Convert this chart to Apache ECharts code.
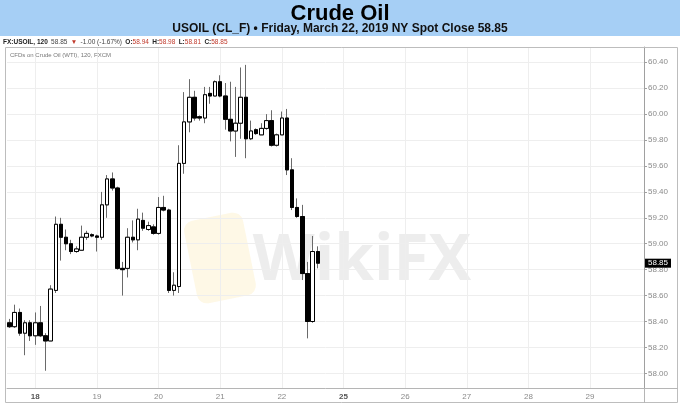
<!DOCTYPE html>
<html>
<head>
<meta charset="utf-8">
<script src="https://cdn.jsdelivr.net/npm/echarts@6/dist/echarts.min.js"></script>
<style>html,body{margin:0;padding:0;background:#fff}#c{width:680px;height:405px}</style>
</head>
<body>
<div id="c"></div>
<script>
// ---- data (2-hour bars, USOIL) ----
const dayLabels = ['18','19','20','21','22','25','26','27','28','29'];
const boldDays = ['18','25'];
const barsPerDay = 12;
const firstDaySlot = 5;
const totalSlots = 124;

const opens = [58.39,58.36,58.47,58.31,58.39,58.29,58.39,58.29,58.25,58.64,
  59.15,59.05,59.00,58.94,58.95,59.05,59.07,59.06,59.05,59.30,
  59.50,59.43,58.81,58.81,59.05,59.03,59.18,59.11,59.13,59.08,
  59.28,59.26,58.64,58.67,59.62,59.94,60.13,59.98,59.97,60.16,
  60.14,60.25,60.14,59.96,59.87,59.93,60.13,59.81,59.88,59.84,
  59.89,59.95,59.76,59.84,59.97,59.57,59.28,59.21,58.77,58.40,
  58.94];
const closes = [58.36,58.47,58.31,58.39,58.29,58.39,58.29,58.25,58.65,59.15,
  59.05,59.00,58.94,58.96,59.05,59.08,59.06,59.05,59.30,59.50,
  59.43,58.81,58.80,59.05,59.03,59.19,59.12,59.14,59.08,59.28,
  59.26,58.64,58.68,59.62,59.94,60.13,59.97,59.97,60.15,60.14,
  60.25,60.14,59.96,59.87,59.93,60.13,59.81,59.87,59.85,59.89,
  59.95,59.76,59.84,59.97,59.57,59.28,59.21,58.77,58.40,58.94,
  58.85];
const lows = [58.35,58.35,58.29,58.14,58.25,58.22,58.28,58.02,58.25,58.62,
  58.87,58.95,58.92,58.93,58.95,59.03,59.05,58.94,59.03,59.20,
  59.41,58.80,58.60,58.74,59.01,58.95,59.10,59.10,59.07,59.07,
  59.25,58.62,58.60,58.62,59.54,59.86,59.95,59.95,59.93,60.08,
  60.14,60.13,59.88,59.79,59.67,59.81,59.66,59.80,59.84,59.84,
  59.88,59.75,59.75,59.84,59.53,59.26,59.20,58.72,58.27,58.39,
  58.81];
const highs = [58.42,58.53,58.50,58.41,58.41,58.47,58.52,58.31,58.68,59.21,
  59.20,59.11,59.03,58.98,59.14,59.10,59.08,59.07,59.40,59.53,
  59.55,59.44,58.86,59.12,59.18,59.27,59.24,59.17,59.15,59.36,
  59.37,59.27,58.78,59.76,60.17,60.27,60.18,59.99,60.21,60.21,
  60.26,60.30,60.24,60.25,60.21,60.36,60.38,59.95,59.89,59.93,
  60.00,60.03,59.85,60.02,60.04,59.66,59.35,59.30,58.86,59.06,
  58.98];

// ---- build category slots ----
const cats = [];
for (let i = 0; i < totalSlots; i++) {
  const k = (i - firstDaySlot) / barsPerDay;
  if (Number.isInteger(k) && k >= 0 && k < dayLabels.length) cats.push(dayLabels[k]);
  else cats.push('s' + i);
}
const isDay = (idx, val) => dayLabels.indexOf(val) >= 0;

const full = opens.map((o, i) => [o, closes[i], lows[i], highs[i]]);
const bodies = opens.map((o, i) => [o, closes[i], Math.min(o, closes[i]), Math.max(o, closes[i])]);
const lastClose = closes[closes.length - 1];

const chart = echarts.init(document.getElementById('c'), null, {renderer: 'canvas'});
const F = '"Liberation Sans", Arial, sans-serif';

chart.setOption({
  animation: false,
  backgroundColor: '#fff',
  grid: {left: 7, right: 36, top: 47, bottom: 17, show: false},
  xAxis: {
    type: 'category', data: cats, boundaryGap: true,
    axisLine: {show: true, lineStyle: {color: '#b5b5b5'}},
    axisTick: {show: true, inside: true, length: 4, alignWithLabel: true, interval: isDay, lineStyle: {color: '#b5b5b5'}},
    axisLabel: {
      interval: isDay, color: '#8a8a8a', fontSize: 8, fontFamily: F, margin: 5,
      formatter: v => boldDays.indexOf(v) >= 0 ? '{b|' + v + '}' : v,
      rich: {b: {fontWeight: 'bold', color: '#555', fontSize: 8, fontFamily: F}}
    },
    splitLine: {show: false}
  },
  yAxis: {
    type: 'value', position: 'right', min: 57.887, max: 60.518, splitNumber: 13,
    axisLine: {show: true, lineStyle: {color: '#a0a0a0'}},
    axisTick: {show: true, length: 3, lineStyle: {color: '#a0a0a0'}},
    axisLabel: {
      color: '#8a8a8a', fontSize: 8, fontFamily: F, margin: 4,
      formatter: v => Math.abs(v * 5 - Math.round(v * 5)) < 1e-6 ? v.toFixed(2) : ''
    },
    splitLine: {show: true, lineStyle: {color: '#eeeeee'}}
  },
  series: [
    {
      type: 'candlestick', name: 'wicks', data: full, barWidth: 4, z: 3,
      itemStyle: {color: '#6a6a6a', color0: '#6a6a6a', borderColor: '#6a6a6a', borderColor0: '#6a6a6a', borderWidth: 1},
      markLine: {
        silent: true, symbol: 'none', z: 1,
        label: {show: false},
        lineStyle: {color: '#eeeeee', type: 'solid', width: 1},
        data: dayLabels.map(d => ({xAxis: d}))
      }
    },
    {
      type: 'candlestick', name: 'USOIL', data: bodies, barWidth: 4, z: 4,
      itemStyle: {color: '#ffffff', color0: '#000000', borderColor: '#000000', borderColor0: '#000000', borderWidth: 1},
      markLine: {
        silent: true, symbol: 'none', z: 30,
        lineStyle: {color: 'rgba(0,0,0,0)', width: 0},
        label: {show: true, position: 'end', distance: 1, formatter: p => p.value.toFixed(2),
          backgroundColor: '#000', color: '#fff', fontSize: 8, fontFamily: F, padding: [1, 3, 0, 3], opacity: 1},
        emphasis: {disabled: true},
        data: [{yAxis: lastClose}]
      }
    }
  ],
  graphic: [
    {type: 'rect', z: -10, shape: {x: 0, y: 0, width: 680, height: 36}, style: {fill: '#a6cff5'}},
    {type: 'text', z: 10, x: 340, y: 14, style: {text: 'Crude Oil', font: 'bold 22px ' + F, fill: '#000', textAlign: 'center', textVerticalAlign: 'middle', verticalAlign: 'middle'}},
    {type: 'text', z: 10, x: 340, y: 28.5, style: {text: 'USOIL (CL_F) \u2022 Friday, March 22, 2019 NY Spot Close 58.85', font: 'bold 12px "Liberation Sans Narrow", "Liberation Sans", Arial', fill: '#111', textAlign: 'center', textVerticalAlign: 'middle', verticalAlign: 'middle'}},
    {type: 'text', z: 10, x: 3, y: 42.5, style: {
      text: '{k|FX:USOIL, 120} {n|58.85} {r|\u25BC} {n|-1.00 (-1.67%)} {k|O:}{r|58.94} {k|H:}{r|58.98} {k|L:}{r|58.81} {k|C:}{r|58.85}',
      textVerticalAlign: 'middle', verticalAlign: 'middle',
      rich: {
        k: {fontSize: 6.5, fontWeight: 'bold', fill: '#222', fontFamily: '"Liberation Sans Narrow", "Liberation Sans"'},
        n: {fontSize: 6.5, fill: '#444', fontFamily: '"Liberation Sans Narrow", "Liberation Sans"'},
        r: {fontSize: 6.5, fill: '#c0392b', fontFamily: '"Liberation Sans Narrow", "Liberation Sans"'}
      }}},
    {type: 'text', z: 10, x: 10, y: 55, style: {text: 'CFDs on Crude Oil (WTI), 120, FXCM', font: '6px "Liberation Sans"', fill: '#777', textVerticalAlign: 'middle', verticalAlign: 'middle'}},
    {type: 'rect', z: 20, silent: true, shape: {x: 5.5, y: 47.5, width: 672, height: 355}, style: {fill: 'none', stroke: '#bdbdbd', lineWidth: 1}},
    {type: 'line', z: 20, silent: true, shape: {x1: 644, y1: 388.5, x2: 678, y2: 388.5}, style: {stroke: '#b5b5b5', lineWidth: 1}},
    {type: 'line', z: 20, silent: true, shape: {x1: 644.5, y1: 388, x2: 644.5, y2: 403}, style: {stroke: '#b5b5b5', lineWidth: 1}},
    {type: 'rect', z: 0, silent: true, x: 220, y: 258, rotation: 0.2, shape: {x: -30, y: -42, width: 60, height: 84, r: 10}, style: {fill: 'rgba(250,222,140,0.22)'}},
    {type: 'text', z: 0, silent: true, x: 362, y: 262, style: {text: 'WikiFX', font: 'bold 64px "Open Sans", sans-serif', fill: 'rgba(200,200,200,0.32)', textAlign: 'center', textVerticalAlign: 'middle', verticalAlign: 'middle'}}
  ]
});
</script>
</body>
</html>
